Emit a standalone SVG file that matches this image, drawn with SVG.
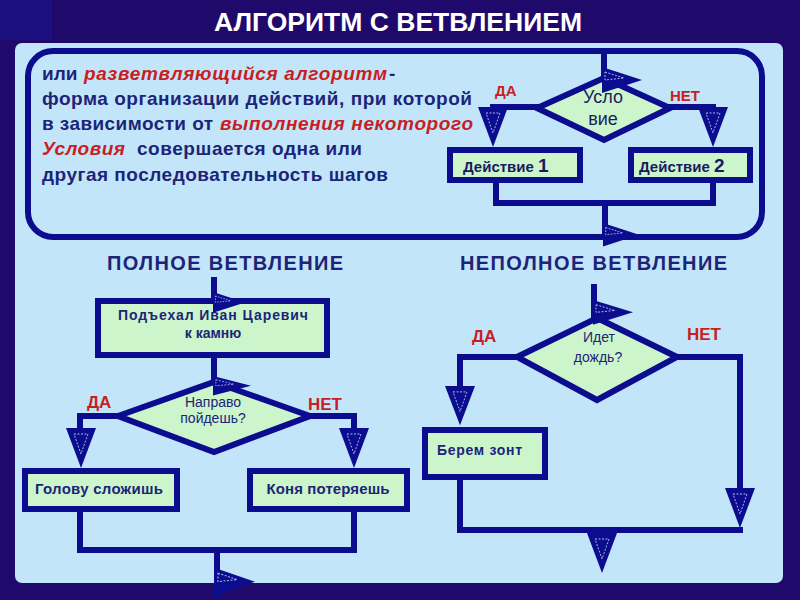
<svg xmlns="http://www.w3.org/2000/svg" width="800" height="600" viewBox="0 0 800 600">
<defs>
<style>
.ln{stroke:#0c0c8e;stroke-width:6;fill:none;stroke-linecap:square;stroke-linejoin:miter}
.box{stroke:#0c0c8e;stroke-width:6;fill:#ccf5cc}
.ah{fill:#0c0c8e}
.ahi{fill:none;stroke:#a8b8e8;stroke-width:1;stroke-dasharray:2 1.5}
.t{font-family:"Liberation Sans",Arial,sans-serif;font-weight:bold;fill:#1c2478}
.r{font-family:"Liberation Sans",Arial,sans-serif;font-weight:bold;font-style:italic;fill:#c81e22}
.lab{font-family:"Liberation Sans",Arial,sans-serif;font-weight:bold;fill:#c81e1e;font-size:16px}
.nt{font-family:"Liberation Sans",Arial,sans-serif;font-weight:bold;fill:#1c2478;font-size:14px;text-anchor:middle}
</style>
<g id="ad"><polygon class="ah" points="-15,0 15,0 0,40"/><polygon class="ahi" points="-7,6 7,6 0,26"/></g>
<g id="ar"><polygon class="ah" points="0,0 40,13 0,26"/><polygon class="ahi" points="3,5 22,11 3,13"/></g>
</defs>
<rect x="0" y="0" width="800" height="600" fill="#1f0a6c"/>
<rect x="0" y="0" width="52" height="40" fill="#1c1080"/>
<rect x="15" y="43" width="768" height="540" rx="7" fill="#c2e5fa"/>
<text class="t" x="398" y="31" font-size="25" style="fill:#ffffff" text-anchor="middle" textLength="368" lengthAdjust="spacingAndGlyphs">АЛГОРИТМ С ВЕТВЛЕНИЕМ</text>

<g id="frame">
<rect class="ln" x="28" y="51" width="734" height="186" rx="25"/>
<text class="t" x="42" y="80" font-size="19">или</text>
<text class="r" x="84" y="80" font-size="19" textLength="303">разветвляющийся алгоритм</text>
<text class="t" x="389" y="80" font-size="19">-</text>
<text class="t" x="42" y="105" font-size="19" textLength="430">форма организации действий, при которой</text>
<text class="t" x="42" y="130" font-size="19" textLength="171">в зависимости от</text>
<text class="r" x="220" y="130" font-size="19" textLength="253">выполнения некоторого</text>
<text class="r" x="42" y="155" font-size="19" textLength="83">Условия</text>
<text class="t" x="137" y="155" font-size="19" textLength="225">совершается одна или</text>
<text class="t" x="42" y="181" font-size="19" textLength="346">другая последовательность шагов</text>
</g>

<g id="headings">
<text class="t" x="107" y="270" font-size="20" textLength="236">ПОЛНОЕ ВЕТВЛЕНИЕ</text>
<text class="t" x="460" y="270" font-size="20" textLength="267">НЕПОЛНОЕ ВЕТВЛЕНИЕ</text>
</g>

<g id="connectors">
<polyline class="ln" points="604,52 604,80"/>
<polyline class="ln" points="537,107 493,107 493,130"/>
<polyline class="ln" points="670,107 713,107 713,130"/>
<polyline class="ln" points="496,183 496,203 713,203 713,183"/>
<polyline class="ln" points="605,203 605,236"/>
<polyline class="ln" points="214,280 214,300"/>
<polyline class="ln" points="214,356 214,384"/>
<polyline class="ln" points="118,416 80,416 80,440"/>
<polyline class="ln" points="310,416 354,416 354,440"/>
<polyline class="ln" points="80,511 80,550 354,550 354,511"/>
<polyline class="ln" points="217,550 217,595"/>
<polyline class="ln" points="594,287 594,320"/>
<polyline class="ln" points="517,357 460,357 460,400"/>
<polyline class="ln" points="677,357 740,357 740,500"/>
<polyline class="ln" points="460,479 460,530 740,530"/>
<polyline class="ln" points="602,530 602,560"/>
</g>

<g id="n-cond">
<polygon class="box" points="604,78 670,108 604,140 537,108"/>
<text x="603" y="103" font-family="Liberation Sans, Arial, sans-serif" font-size="18" fill="#1c1c60" text-anchor="middle">Усло</text>
<text x="603" y="125" font-family="Liberation Sans, Arial, sans-serif" font-size="18" fill="#1c1c60" text-anchor="middle">вие</text>
</g>
<g id="n-act1">
<rect class="box" x="450" y="150" width="130" height="30"/>
<text class="t" x="463" y="172" font-size="15" style="fill:#1a1a5e">Действие <tspan font-size="19">1</tspan></text>
</g>
<g id="n-act2">
<rect class="box" x="631" y="150" width="119" height="30"/>
<text class="t" x="639" y="172" font-size="15" style="fill:#1a1a5e">Действие <tspan font-size="19">2</tspan></text>
</g>
<g id="top-labels">
<text class="lab" x="495" y="96" style="font-size:15px">ДА</text>
<text class="lab" x="670" y="101" style="font-size:15px">НЕТ</text>
</g>

<g id="n-ivan">
<rect class="box" x="98" y="301" width="229" height="54"/>
<text class="nt" x="213" y="320" textLength="190">Подъехал Иван Царевич</text>
<text class="nt" x="213" y="338">к камню</text>
</g>
<g id="n-right">
<polygon class="box" points="214,382 310,416 214,452 118,416"/>
<text class="nt" x="213" y="407" style="font-weight:normal">Направо</text>
<text class="nt" x="213" y="423" style="font-weight:normal">пойдешь?</text>
</g>
<g id="n-head">
<rect class="box" x="25" y="471" width="152" height="38"/>
<text class="nt" x="99" y="494" style="font-size:15px" textLength="128">Голову сложишь</text>
</g>
<g id="n-horse">
<rect class="box" x="250" y="471" width="157" height="38"/>
<text class="nt" x="328" y="494" style="font-size:15px" textLength="123">Коня потеряешь</text>
</g>
<g id="full-labels">
<text class="lab" x="87" y="408" style="font-size:17px">ДА</text>
<text class="lab" x="308" y="410" style="font-size:17px">НЕТ</text>
</g>

<g id="n-rain">
<polygon class="box" points="597,318 677,357 597,400 517,357"/>
<text class="nt" x="599" y="342" style="font-weight:normal">Идет</text>
<text class="nt" x="598" y="362" style="font-weight:normal">дождь?</text>
</g>
<g id="n-umbrella">
<rect class="box" x="425" y="430" width="120" height="47"/>
<text class="t" x="437" y="455" font-size="14" textLength="85">Берем зонт</text>
</g>
<g id="partial-labels">
<text class="lab" x="472" y="342" style="font-size:17px">ДА</text>
<text class="lab" x="687" y="340" style="font-size:17px">НЕТ</text>
</g>

<g id="arrowheads">
<use href="#ar" transform="translate(602,67)"/>
<use href="#ad" transform="translate(493,107)"/>
<use href="#ad" transform="translate(713,107)"/>
<use href="#ar" transform="translate(603,223) scale(0.9)"/>
<use href="#ar" transform="translate(213,292) scale(0.8)"/>
<use href="#ar" transform="translate(213,376) scale(0.95,0.75)"/>
<use href="#ad" transform="translate(81,428)"/>
<use href="#ad" transform="translate(354,428)"/>
<use href="#ar" transform="translate(215,568) scale(1,1.05)"/>
<use href="#ar" transform="translate(593,300) scale(1,0.95)"/>
<use href="#ad" transform="translate(460,386) scale(1,0.98)"/>
<use href="#ad" transform="translate(740,488)"/>
<use href="#ad" transform="translate(602,533)"/>
</g>
</svg>
